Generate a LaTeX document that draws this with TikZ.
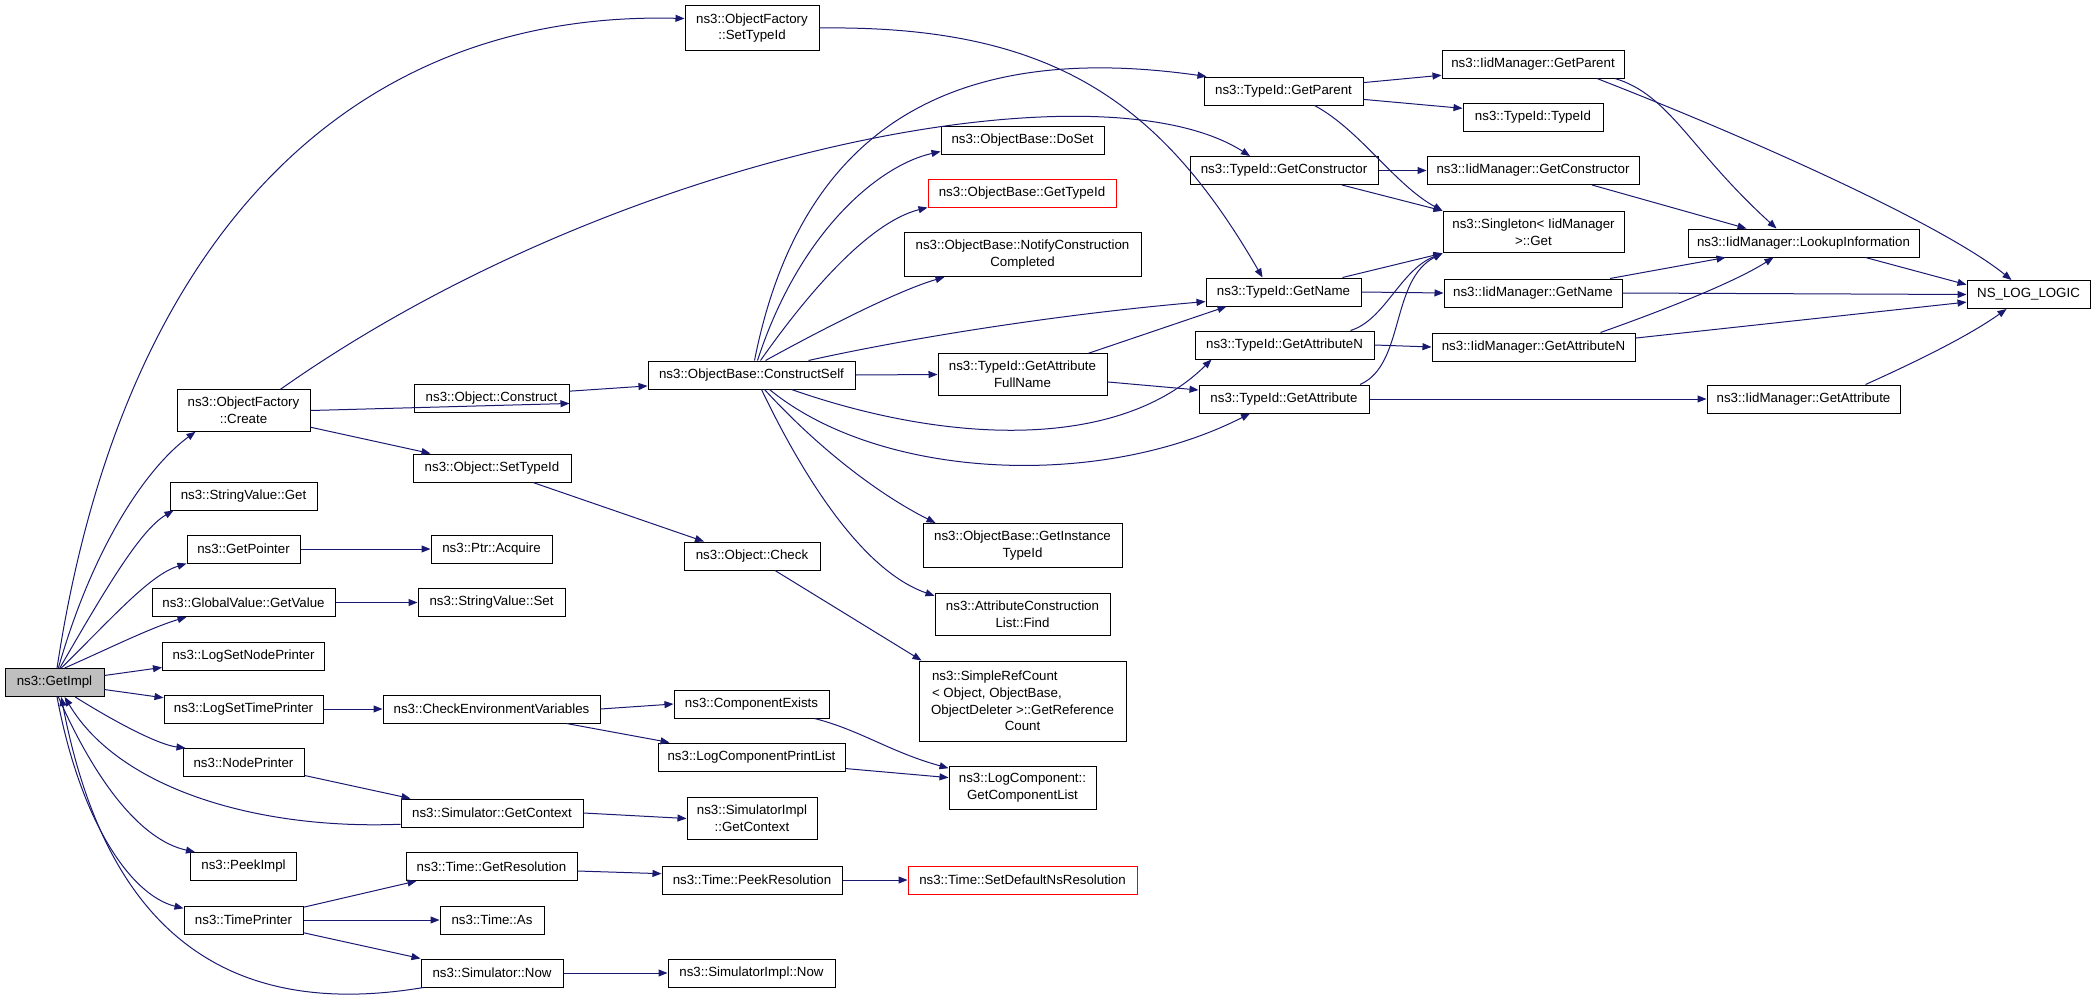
\documentclass[tikz,border=0pt]{standalone}
\usepackage{fontspec}
\setmainfont{Liberation Sans}
\usepackage{tikz}
\usetikzlibrary{arrows.meta}
\definecolor{edgeblue}{HTML}{191970}
\definecolor{callgray}{HTML}{BFBFBF}

\begin{document}
\begin{tikzpicture}[x = 1pt, y = -1pt, call/.style = {draw = edgeblue, line width = 1pt, -{Triangle[length = 9pt, width = 7pt]}}]
    \useasboundingbox (0,0) rectangle (2096,1001);
    \tikzstyle{fn}=[rectangle, draw, fill = white, line width = 1pt, minimum height = 28, inner xsep = 2pt, inner ysep = 7.5pt, align = center, font = \fontsize{13.3}{16.7}\selectfont]

    \node[fn, minimum width = 99, fill = callgray] (impl) at (54.5,682.5) {ns3::GetImpl};

    \node[fn, minimum width = 133] (ofcreate) at (243.5,410.5) {ns3::ObjectFactory\\::Create};
    \node[fn, minimum width = 147] (svget) at (243.5,496) {ns3::StringValue::Get};
    \node[fn, minimum width = 113] (getptr) at (243.5,549) {ns3::GetPointer};
    \node[fn, minimum width = 183] (gvget) at (243.5,602.5) {ns3::GlobalValue::GetValue};
    \node[fn, minimum width = 162] (lognode) at (243.5,656) {ns3::LogSetNodePrinter};
    \node[fn, minimum width = 159] (logtime) at (243.5,709) {ns3::LogSetTimePrinter};
    \node[fn, minimum width = 121] (nodepr) at (243.5,762.5) {ns3::NodePrinter};
    \node[fn, minimum width = 106] (peek) at (243.5,866.5) {ns3::PeekImpl};
    \node[fn, minimum width = 119] (timepr) at (243.5,920) {ns3::TimePrinter};

    \node[fn, minimum width = 155] (objconstr) at (491.5,398) {ns3::Object::Construct};
    \node[fn, minimum width = 158] (objsettid) at (492,468) {ns3::Object::SetTypeId};
    \node[fn, minimum width = 121] (acquire) at (491.5,549) {ns3::Ptr::Acquire};
    \node[fn, minimum width = 147] (svset) at (491.5,602.5) {ns3::StringValue::Set};
    \node[fn, minimum width = 217] (checkenv) at (491.5,709) {ns3::CheckEnvironmentVariables};
    \node[fn, minimum width = 182] (simctx) at (492,813) {ns3::Simulator::GetContext};
    \node[fn, minimum width = 171] (getres) at (491.5,866.5) {ns3::Time::GetResolution};
    \node[fn, minimum width = 104] (timeas) at (492,920) {ns3::Time::As};
    \node[fn, minimum width = 142] (simnow) at (492,973) {ns3::Simulator::Now};

    \node[fn, minimum width = 134] (ofsettid) at (752,28) {ns3::ObjectFactory\\::SetTypeId};
    \node[fn, minimum width = 207] (constrself) at (751.5,375) {ns3::ObjectBase::ConstructSelf};
    \node[fn, minimum width = 136] (objcheck) at (752,556) {ns3::Object::Check};
    \node[fn, minimum width = 155] (compexists) at (751.5,704) {ns3::ComponentExists};
    \node[fn, minimum width = 187] (logprint) at (751.5,757) {ns3::LogComponentPrintList};
    \node[fn, minimum width = 130] (implctx) at (752,818.5) {ns3::SimulatorImpl\\::GetContext};
    \node[fn, minimum width = 180] (peekres) at (752,880) {ns3::Time::PeekResolution};
    \node[fn, minimum width = 167] (implnow) at (751.5,973) {ns3::SimulatorImpl::Now};

    \node[fn, minimum width = 163] (doset) at (1022.5,140) {ns3::ObjectBase::DoSet};
    \node[fn, minimum width = 188, draw = red] (obtid) at (1022,193) {ns3::ObjectBase::GetTypeId};
    \node[fn, minimum width = 237] (notify) at (1022.5,254.5) {ns3::ObjectBase::NotifyConstruction\\Completed};
    \node[fn, minimum width = 169] (fullname) at (1022.5,374.5) {ns3::TypeId::GetAttribute\\FullName};
    \node[fn, minimum width = 199] (instid) at (1022.5,545.5) {ns3::ObjectBase::GetInstance\\TypeId};
    \node[fn, minimum width = 175] (acfind) at (1022.5,614.5) {ns3::AttributeConstruction\\List::Find};
    \node[fn, minimum width = 207, minimum height = 80] (refcount) at (1022.5,701) {\hbox to 181pt{ns3::SimpleRefCount\hfil}\\\hbox to 181pt{< Object, ObjectBase,\hfil}\\ObjectDeleter >::GetReference\\Count};
    \node[fn, minimum width = 147] (complist) at (1022.5,788) {ns3::LogComponent::\\GetComponentList};
    \node[fn, minimum width = 229, draw = red] (setdefres) at (1022.5,880) {ns3::Time::SetDefaultNsResolution};

    \node[fn, minimum width = 159] (tparent) at (1283.5,91) {ns3::TypeId::GetParent};
    \node[fn, minimum width = 188] (tctor) at (1284,170.5) {ns3::TypeId::GetConstructor};
    \node[fn, minimum width = 155] (tname) at (1283.5,292) {ns3::TypeId::GetName};
    \node[fn, minimum width = 179] (tattrn) at (1284.5,345) {ns3::TypeId::GetAttributeN};
    \node[fn, minimum width = 170] (tattr) at (1284,399) {ns3::TypeId::GetAttribute};

    \node[fn, minimum width = 182] (iparent) at (1533,64) {ns3::IidManager::GetParent};
    \node[fn, minimum width = 140] (tidtid) at (1533,117) {ns3::TypeId::TypeId};
    \node[fn, minimum width = 212] (ictor) at (1533,170.5) {ns3::IidManager::GetConstructor};
    \node[fn, minimum width = 181] (single) at (1533.5,232) {ns3::Singleton< IidManager\\>::Get};
    \node[fn, minimum width = 178] (iname) at (1533,293) {ns3::IidManager::GetName};
    \node[fn, minimum width = 203] (iattrn) at (1533.5,347) {ns3::IidManager::GetAttributeN};

    \node[fn, minimum width = 231] (lookup) at (1803.5,243) {ns3::IidManager::LookupInformation};
    \node[fn, minimum width = 193] (iattr) at (1803.5,399) {ns3::IidManager::GetAttribute};
    \node[fn, minimum width = 123] (nslog) at (2028.5,294.5) {NS\_LOG\_LOGIC};

    \draw [call] (impl.80) .. controls (120,250) and (340,10) .. (ofsettid.172);
    \draw [call] (impl.75) .. controls (95,540) and (150,465) .. ([xshift=19pt]ofcreate.south west);
    \draw [call] (impl.70) .. controls (105,590) and (140,530) .. ([xshift=4pt]svget.south west);
    \draw [call] (impl.65) .. controls (115,615) and (150,575) .. (getptr.south west);
    \draw [call] (impl.55) .. controls (110,648) and (150,628) .. ([xshift=35pt]gvget.south west);
    \draw [call] (impl.8) to (lognode.-172);
    \draw [call] (impl.-8) to (logtime.172);
    \draw [call] (impl.-35) .. controls (120,725) and (160,745) .. ([xshift=3pt]nodepr.north west);
    \draw [call] (impl.-75) .. controls (95,780) and (140,840) .. ([xshift=5pt]peek.north west);
    \draw [call] (impl.-80) .. controls (80,820) and (130,895) .. (timepr.169);
    \draw [call] (simctx.-173) .. controls (260,830) and (120,790) .. (impl.-55);
    \draw [call] ([xshift=3pt]simnow.south west) .. controls (200,1025) and (100,900) .. (impl.-65);

    \draw [call] (ofcreate.east) to (objconstr.-4);
    \draw [call] (ofcreate.-14) to ([xshift=18pt]objsettid.north west);
    \draw [call] ([xshift=37pt]ofcreate.north) .. controls (620,150) and (1100,60) .. ([xshift=-34pt]tctor.north);
    \draw [call] (ofsettid.east) .. controls (1050,25) and (1160,100) .. ([xshift=-21pt]tname.north);
    \draw [call] (objconstr.5) to (constrself.-174);
    \draw [call] ([xshift=41pt]objsettid.south) to ([xshift=-48pt]objcheck.north);
    \draw [call] ([xshift=23pt]objcheck.south) to ([xshift=3pt]refcount.north west);

    \draw [call] ([xshift=3pt]constrself.north) .. controls (800,130) and (950,40) .. ([xshift=3pt]tparent.north west);
    \draw [call] ([xshift=6pt]constrself.north) .. controls (800,230) and (880,165) .. (doset.-172);
    \draw [call] ([xshift=9pt]constrself.north) .. controls (810,290) and (870,222) .. (obtid.south west);
    \draw [call] ([xshift=14pt]constrself.north) .. controls (830,325) and (900,290) .. ([xshift=41pt]notify.south west);
    \draw [call] ([xshift=57pt]constrself.north) .. controls (900,340) and (1050,315) .. (tname.-173);
    \draw [call] (constrself.east) to (fullname.west);
    \draw [call] ([xshift=40pt]constrself.south) .. controls (950,445) and (1120,450) .. ([xshift=17pt]tattrn.south west);
    \draw [call] ([xshift=18pt]constrself.south) .. controls (880,480) and (1100,490) .. ([xshift=-34pt]tattr.south);
    \draw [call] ([xshift=13pt]constrself.south) .. controls (820,450) and (880,495) .. ([xshift=13pt]instid.north west);
    \draw [call] ([xshift=10pt]constrself.south) .. controls (800,470) and (860,570) .. (acfind.168);
    \draw [call] ([xshift=66pt]fullname.north) to ([xshift=-57pt]tname.south);
    \draw [call] (fullname.-5) to (tattr.174);

    \draw [call] (tparent.6) to (iparent.-173);
    \draw [call] (tparent.-6) to (tidtid.173);
    \draw [call] ([xshift=31pt]tparent.south) .. controls (1360,130) and (1395,185) .. (single.north west);
    \draw [call] (tctor.east) to (ictor.west);
    \draw [call] ([xshift=58pt]tctor.south) to (single.north west);
    \draw [call] ([xshift=59pt]tname.north) to (single.south west);
    \draw [call] (tname.east) to (iname.west);
    \draw [call] ([xshift=66pt]tattrn.north) .. controls (1385,320) and (1400,270) .. (single.south west);
    \draw [call] (tattrn.east) to (iattrn.west);
    \draw [call] ([xshift=76pt]tattr.north) .. controls (1405,365) and (1390,280) .. (single.south west);
    \draw [call] (tattr.east) to (iattr.west);

    \draw [call] ([xshift=82pt]iparent.south) .. controls (1670,95) and (1690,150) .. ([xshift=-27pt]lookup.north);
    \draw [call] ([xshift=64pt]iparent.south) .. controls (1780,150) and (1950,230) .. ([xshift=-17pt]nslog.north);
    \draw [call] ([xshift=59pt]ictor.south) to ([xshift=-57pt]lookup.north);
    \draw [call] ([xshift=77pt]iname.north) to ([xshift=-78pt]lookup.south);
    \draw [call] (iname.east) to (nslog.west);
    \draw [call] ([xshift=67pt]iattrn.north) .. controls (1650,315) and (1730,285) .. ([xshift=-30pt]lookup.south);
    \draw [call] (iattrn.5) to (nslog.-173);
    \draw [call] ([xshift=62pt]iattr.north) .. controls (1920,360) and (1970,335) .. ([xshift=-22pt]nslog.south);
    \draw [call] ([xshift=62pt]lookup.south) to (nslog.171);

    \draw [call] (getptr.east) to (acquire.west);
    \draw [call] (gvget.east) to (svset.west);
    \draw [call] (logtime.east) to (checkenv.west);
    \draw [call] (checkenv.east) to (compexists.west);
    \draw [call] ([xshift=75pt]checkenv.south) to ([xshift=12pt]logprint.north west);
    \draw [call] ([xshift=63pt]compexists.south) .. controls (860,730) and (890,752) .. (complist.165);
    \draw [call] (logprint.-7) to (complist.172);
    \draw [call] (nodepr.-12) to ([xshift=10pt]simctx.north west);
    \draw [call] (simctx.east) to (implctx.west);
    \draw [call] (timepr.12) to ([xshift=11pt]getres.south west);
    \draw [call] (timepr.east) to (timeas.west);
    \draw [call] (timepr.-12) to (simnow.north west);
    \draw [call] (getres.-3) to (peekres.176);
    \draw [call] (peekres.east) to (setdefres.west);
    \draw [call] (simnow.east) to (implnow.west);
\end{tikzpicture}
\end{document}
